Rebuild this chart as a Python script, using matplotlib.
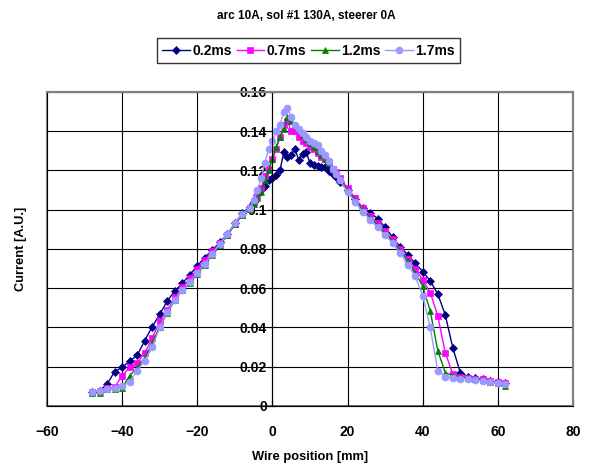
import matplotlib
matplotlib.use("Agg")
import matplotlib.pyplot as plt
from matplotlib.patches import Rectangle
from matplotlib.ticker import FuncFormatter

# Wire positions [mm]: coarse steps on the flanks, 1 mm steps around the peak
x_left = list(range(-48, -5, 2))
x_center = list(range(-5, 18))
x_right = list(range(18, 63, 2))
positions = x_left + x_center + x_right

current_02 = [
    0.0070, 0.0078, 0.0112, 0.0175, 0.0197, 0.0229, 0.0258, 0.0333, 0.0404, 0.0467, 0.0535,
    0.0586, 0.0625, 0.0668, 0.0715, 0.0756, 0.0795, 0.0834, 0.0875, 0.0931, 0.0982, 0.1016,
    0.1040, 0.1075, 0.1100, 0.1120, 0.1150, 0.1163, 0.1177, 0.1200, 0.1292, 0.1267, 0.1280,
    0.1310, 0.1253, 0.1284, 0.1295, 0.1237, 0.1228, 0.1222, 0.1220, 0.1216, 0.1195, 0.1180,
    0.1165,
    0.1140, 0.1100, 0.1055, 0.1010, 0.0985, 0.0955, 0.0910, 0.0860, 0.0810, 0.0770, 0.0727,
    0.0685, 0.0637, 0.0571, 0.0464, 0.0297, 0.0170, 0.0150, 0.0142, 0.0135, 0.0128, 0.0122,
    0.0118,
]
current_07 = [
    0.0070, 0.0078, 0.0090, 0.0096, 0.0155, 0.0197, 0.0218, 0.0270, 0.0346, 0.0432, 0.0490,
    0.0553, 0.0605, 0.0650, 0.0700, 0.0745, 0.0790, 0.0830, 0.0870, 0.0925, 0.0975, 0.1010,
    0.1040, 0.1070, 0.1110, 0.1170, 0.1210, 0.1260, 0.1310, 0.1370, 0.1430, 0.1450, 0.1400,
    0.1400, 0.1370, 0.1350, 0.1340, 0.1320, 0.1310, 0.1290, 0.1270, 0.1260, 0.1240, 0.1210,
    0.1190,
    0.1160, 0.1110, 0.1060, 0.1010, 0.0970, 0.0930, 0.0890, 0.0850, 0.0800, 0.0750, 0.0700,
    0.0642, 0.0578, 0.0460, 0.0272, 0.0163, 0.0150, 0.0145, 0.0140, 0.0135, 0.0128, 0.0122,
    0.0115,
]
current_12 = [
    0.0065, 0.0068, 0.0085, 0.0088, 0.0093, 0.0155, 0.0195, 0.0245, 0.0320, 0.0405, 0.0472,
    0.0540, 0.0590, 0.0625, 0.0675, 0.0720, 0.0770, 0.0820, 0.0870, 0.0925, 0.0975, 0.1005,
    0.1030, 0.1060, 0.1090, 0.1150, 0.1200, 0.1260, 0.1320, 0.1370, 0.1410, 0.1470, 0.1450,
    0.1430, 0.1410, 0.1380, 0.1360, 0.1340, 0.1320, 0.1300, 0.1280, 0.1260, 0.1240, 0.1210,
    0.1180,
    0.1150, 0.1100, 0.1050, 0.1000, 0.0960, 0.0920, 0.0880, 0.0840, 0.0790, 0.0740, 0.0680,
    0.0610, 0.0484, 0.0282, 0.0170, 0.0155, 0.0148, 0.0142, 0.0136, 0.0130, 0.0124, 0.0115,
    0.0100,
]
current_17 = [
    0.0070, 0.0078, 0.0085, 0.0092, 0.0100, 0.0124, 0.0180, 0.0230, 0.0300, 0.0400, 0.0480,
    0.0540, 0.0590, 0.0630, 0.0680, 0.0725, 0.0775, 0.0825, 0.0875, 0.0930, 0.0980, 0.1010,
    0.1050, 0.1100, 0.1160, 0.1240, 0.1310, 0.1350, 0.1400, 0.1430, 0.1500, 0.1520, 0.1470,
    0.1430, 0.1410, 0.1390, 0.1370, 0.1350, 0.1340, 0.1330, 0.1300, 0.1280, 0.1250, 0.1210,
    0.1180,
    0.1150, 0.1090, 0.1040, 0.0990, 0.0950, 0.0910, 0.0870, 0.0830, 0.0780, 0.0720, 0.0660,
    0.0562, 0.0400, 0.0180, 0.0150, 0.0145, 0.0140, 0.0136, 0.0132, 0.0128, 0.0122, 0.0116,
    0.0110,
]

series_labels = ["0.2ms", "0.7ms", "1.2ms", "1.7ms"]
series_colors = ["#000080", "#FF00FF", "#008000", "#9999FF"]
series_markers = ["D", "s", "^", "o"]
series_sizes = [4, 5, 5, 5]

y_ticks = [0, 0.02, 0.04, 0.06, 0.08, 0.1, 0.12, 0.14, 0.16]
x_ticks = [-60, -40, -20, 0, 20, 40, 60, 80]

plt.rcParams["font.family"] = ["Liberation Sans", "DejaVu Sans"]
plt.rcParams["font.weight"] = "bold"

fig = plt.figure(figsize=(5.9, 4.68), dpi=100)
ax = fig.add_axes([0.0797, 0.1325, 0.8915, 0.671])

for values, label, color, marker, size in zip(
    [current_02, current_07, current_12, current_17],
    series_labels, series_colors, series_markers, series_sizes,
):
    ax.plot(positions, values, color=color, marker=marker, markersize=size,
            linewidth=1.0, label=label, markeredgewidth=0.5)

ax.set_xlim(-60, 80)
ax.set_ylim(0, 0.16)
ax.set_xticks(x_ticks)
ax.set_yticks(y_ticks)
ax.yaxis.set_major_formatter(FuncFormatter(lambda v, pos: "0" if v == 0 else f"{v:g}"))

# Excel-style grid and a value axis crossing at x = 0
ax.grid(True, color="black", linewidth=0.8)
ax.set_axisbelow(True)
ax.spines["left"].set_position(("data", 0))
ax.spines["left"].set_color("black")
ax.spines["bottom"].set_color("black")
ax.spines["top"].set_color("#808080")
ax.spines["right"].set_color("#808080")
ax.spines["top"].set_linewidth(1.5)
ax.spines["right"].set_linewidth(1.5)
ax.add_patch(Rectangle((0, 0), 1, 1, transform=ax.transAxes, fill=False,
                       edgecolor="#808080", linewidth=1.5, clip_on=False, zorder=0.5))

ax.tick_params(axis="y", direction="inout", length=6, pad=1, labelsize=10)
ax.tick_params(axis="x", direction="in", length=5, pad=14, labelsize=10)

ax.set_xlabel("Wire position [mm]", fontsize=9.3, fontweight="bold", labelpad=8)
fig.text(21 / 590, 0.468, "Current [A.U.]", rotation=90, ha="center", va="center",
         fontsize=9.3, fontweight="bold")

fig.text(0.52, 1 - 16 / 468, "arc 10A, sol #1 130A, steerer 0A", ha="center", va="center",
         fontsize=8.5, fontweight="bold")

leg = ax.legend(loc="center", bbox_to_anchor=(0.497, 1.132), ncol=4, frameon=True,
                fancybox=False, edgecolor="black", fontsize=10, handlelength=2.0,
                columnspacing=0.35, handletextpad=0.15, borderpad=0.4, borderaxespad=0)
leg.get_frame().set_linewidth(1.0)

fig.savefig("out.png", dpi=100)
